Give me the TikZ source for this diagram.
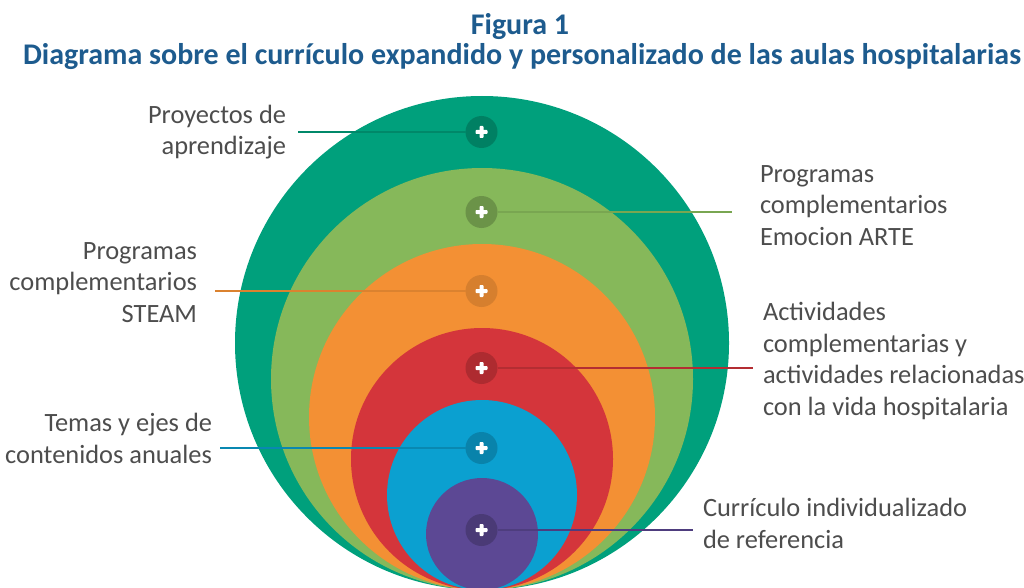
\documentclass[tikz,border=0pt]{standalone}
\usepackage{fontspec}
\setmainfont{Carlito}
\usepackage{xcolor}
\usetikzlibrary{positioning}

\definecolor{ringteal}{HTML}{00A07C}
\definecolor{ringgreen}{HTML}{86B85A}
\definecolor{ringorange}{HTML}{F39034}
\definecolor{ringred}{HTML}{D4353B}
\definecolor{ringblue}{HTML}{0BA0D0}
\definecolor{ringpurple}{HTML}{5C4894}
\definecolor{titleblue}{HTML}{1D5B8E}
\definecolor{textgray}{HTML}{4D4D4D}

\begin{document}
\begin{tikzpicture}[
    x=1pt, y=-1pt,
    every node/.style={inner sep=0pt, outer sep=0pt},
    disc/.style={circle, minimum size=#1},
    halo/.style={circle, minimum size=32pt, path picture={
        \fill[white, rounded corners=0.8pt]
          ([shift={(-6pt,-2pt)}]path picture bounding box.center) rectangle
          ([shift={(6pt,2pt)}]path picture bounding box.center);
        \fill[white, rounded corners=0.8pt]
          ([shift={(-2pt,-6pt)}]path picture bounding box.center) rectangle
          ([shift={(2pt,6pt)}]path picture bounding box.center);}},
    caption/.style={font=\fontsize{26.4}{31.5}\selectfont, text=textgray},
    heading/.style={font=\fontsize{30}{32}\bfseries, text=titleblue, anchor=base},
    lead/.style={line width=1.6pt}
]
\useasboundingbox (0,0) rectangle (1024,588);

% Title
\node[heading] (fig) at (520,35) {Figura 1};
\node[heading] (title) at (522,65)
  {Diagrama sobre el currículo expandido y personalizado de las aulas hospitalarias};

% Rings
\node[disc=494pt, fill=ringteal] (rteal) at (482,343) {};
\node[disc=422pt, fill=ringgreen] (rgreen) at (482,379) {};
\node[disc=346pt, fill=ringorange] (rorange) at (482,417) {};
\node[disc=262pt, fill=ringred] (rred) at (482,459) {};
\node[disc=190pt, fill=ringblue] (rblue) at (482,495) {};
\node[disc=112pt, fill=ringpurple] (rpurple) at (482,534) {};

% Plus marks
\node[halo, fill=ringteal!80!black] (pteal) at (481.5,132) {};
\node[halo, fill=ringgreen!80!black] (pgreen) at (481.5,212) {};
\node[halo, fill=ringorange!88!black] (porange) at (481.5,291) {};
\node[halo, fill=ringred!82!black] (pred) at (481.5,368) {};
\node[halo, fill=ringblue!82!black] (pblue) at (481.5,448) {};
\node[halo, fill=ringpurple!80!black] (ppurple) at (481.5,530) {};

% Labels (anchored at the last line)
\node[caption, align=right, anchor=base east] (proj) at (286,155) {Proyectos de\\aprendizaje};
\node[caption, align=left, anchor=base west] (emoc) at (760,245) {Programas\\complementarios\\Emocion ARTE};
\node[caption, align=right, anchor=base east] (steam) at (197,322) {Programas\\complementarios\\STEAM};
\node[caption, align=left, anchor=base west] (activ) at (763,415)
  {Actividades\\complementarias y\\actividades relacionadas\\con la vida hospitalaria};
\node[caption, align=right, anchor=base east] (temas) at (212,463) {Temas y ejes de\\contenidos anuales};
\node[caption, align=left, anchor=base west] (curr) at (703,548) {Currículo individualizado\\de referencia};

% Leader lines
\coordinate (eteal) at (298,132);
\coordinate (egreen) at (732,212);
\coordinate (eorange) at (215,291);
\coordinate (ered) at (753,368);
\coordinate (eblue) at (220,448);
\coordinate (epurple) at (693,530);

\draw[lead, draw=ringteal!85!black] (eteal) -- (pteal.west);
\draw[lead, draw=ringgreen!90!black] (pgreen.east) -- (egreen);
\draw[lead, draw=ringorange!90!black] (eorange) -- (porange.west);
\draw[lead, draw=ringred!85!black] (pred.east) -- (ered);
\draw[lead, draw=ringblue!85!black] (eblue) -- (pblue.west);
\draw[lead, draw=ringpurple!85!black] (ppurple.east) -- (epurple);

\end{tikzpicture}
\end{document}
